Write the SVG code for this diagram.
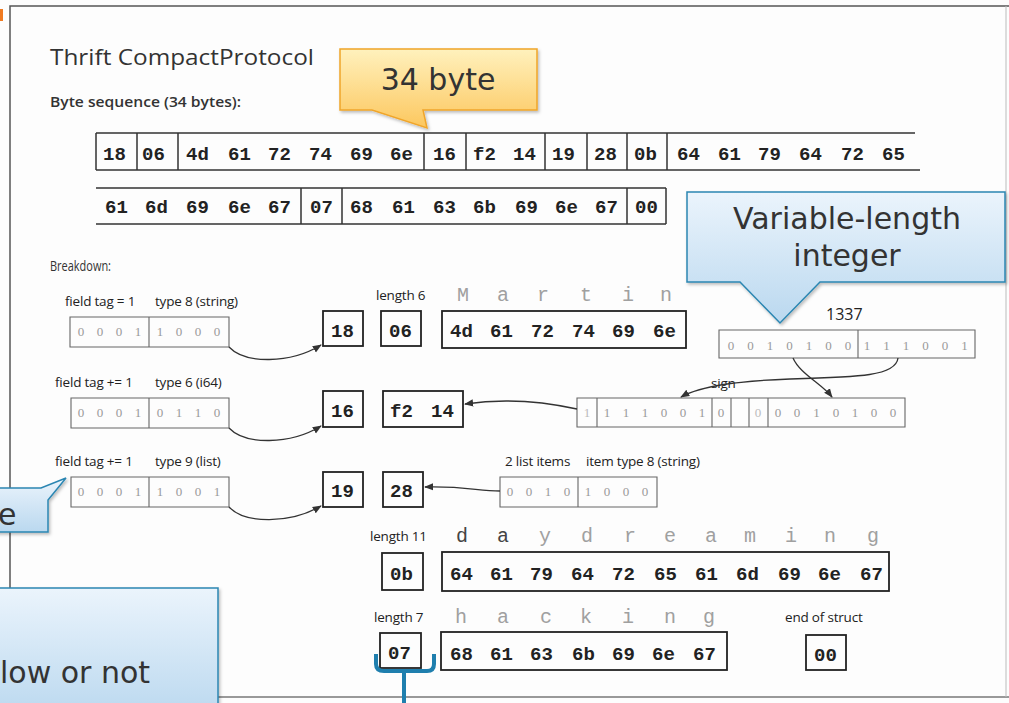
<svg xmlns="http://www.w3.org/2000/svg" width="1009" height="703" viewBox="0 0 1009 703">
<defs>
<linearGradient id="gOr" x1="0" y1="0" x2="0" y2="1"><stop offset="0" stop-color="#fff1bd"/><stop offset="1" stop-color="#fcc75e"/></linearGradient>
<linearGradient id="gBl" x1="0" y1="0" x2="0" y2="1"><stop offset="0" stop-color="#ebf4fc"/><stop offset="1" stop-color="#bad8ef"/></linearGradient>
<marker id="ah" viewBox="0 0 10 10" refX="9" refY="5" markerWidth="7" markerHeight="7" orient="auto-start-reverse"><path d="M0,1 L10,5 L0,9 Z" fill="#333"/></marker>
<filter id="sh" x="-10%" y="-10%" width="130%" height="140%"><feDropShadow dx="1.5" dy="2" stdDeviation="1.5" flood-color="#000" flood-opacity="0.25"/></filter>
</defs>
<style>
.b{font-family:"Liberation Mono","Courier New",monospace;font-weight:bold;font-size:19px;fill:#222}
.l{font-family:"Liberation Mono","Courier New",monospace;font-size:20px;fill:#a0a0a0}
.dk{fill:#444}
.s{font-family:"Open Sans","Noto Sans",sans-serif;font-size:13.5px;fill:#222;letter-spacing:-0.2px}
.bit{font-family:"Liberation Serif",serif;font-size:13px;fill:#999;text-anchor:middle}
.box{fill:none;stroke:#222;stroke-width:1.8}
.rb{fill:none;stroke:#333;stroke-width:1.5}
.bb{fill:none;stroke:#666;stroke-width:1.1}
.c{fill:none;stroke:#333;stroke-width:1.3}
.co{font-family:"DejaVu Sans",Verdana,sans-serif;font-size:30px;fill:#333}
</style>
<rect width="1009" height="703" fill="#fdfdfd"/>
<g id="frame" fill="none" stroke="#555" stroke-width="1.5">
<path d="M10,703 V6 H1009"/>
<path d="M10,697 H1009" stroke="#777"/>
<path d="M1006,6 V697" stroke="#bbb" stroke-width="1"/>
</g>
<rect x="0" y="9" width="3" height="12" fill="#f07a20"/>
<g id="title">
<text x="50" y="65" font-family="Open Sans,Noto Sans,sans-serif" font-size="21" fill="#333" textLength="264" lengthAdjust="spacingAndGlyphs">Thrift CompactProtocol</text>
<text x="50" y="107" font-family="Open Sans,Noto Sans,sans-serif" font-size="14" font-weight="600" fill="#333" textLength="191" lengthAdjust="spacingAndGlyphs">Byte sequence (34 bytes):</text>
<text x="50" y="271" font-family="Open Sans,Noto Sans,sans-serif" font-size="14" fill="#333" textLength="61" lengthAdjust="spacingAndGlyphs">Breakdown:</text>
</g>
<g id="seq1">
<path class="rb" d="M96,133 H915 M96,170 H920 M96,133 V170 M137,133 V170 M178,133 V170 M424,133 V170 M466,133 V170 M545,133 V170 M587,133 V170 M627,133 V170 M667,133 V170"/>
<text class="b" y="160"><tspan x="103">18</tspan><tspan x="142">06</tspan><tspan x="186">4d</tspan><tspan x="228">61</tspan><tspan x="268">72</tspan><tspan x="309">74</tspan><tspan x="350">69</tspan><tspan x="390">6e</tspan><tspan x="433">16</tspan><tspan x="473">f2</tspan><tspan x="513">14</tspan><tspan x="552">19</tspan><tspan x="594">28</tspan><tspan x="634">0b</tspan><tspan x="677">64</tspan><tspan x="718">61</tspan><tspan x="758">79</tspan><tspan x="799">64</tspan><tspan x="841">72</tspan><tspan x="882">65</tspan></text>
</g>
<g id="seq2">
<path class="rb" d="M96,188 H666 M96,224 H666 M301,188 V224 M342,188 V224 M627,188 V224 M666,188 V224"/>
<text class="b" y="213"><tspan x="105">61</tspan><tspan x="145">6d</tspan><tspan x="186">69</tspan><tspan x="228">6e</tspan><tspan x="268">67</tspan><tspan x="310">07</tspan><tspan x="350">68</tspan><tspan x="392">61</tspan><tspan x="433">63</tspan><tspan x="473">6b</tspan><tspan x="515">69</tspan><tspan x="555">6e</tspan><tspan x="595">67</tspan><tspan x="635">00</tspan></text>
</g>
<g id="row1">
<text class="s" x="65" y="306">field tag = 1</text>
<text class="s" x="155" y="306">type 8 (string)</text>
<path class="bb" d="M70,317 H229 V347 H70 Z M149,317 V347"/>
<text class="bit" y="336"><tspan x="81">0</tspan><tspan x="100">0</tspan><tspan x="119">0</tspan><tspan x="138">1</tspan><tspan x="160">1</tspan><tspan x="179">0</tspan><tspan x="198">0</tspan><tspan x="217">0</tspan></text>
<rect class="box" x="323" y="311" width="40" height="35"/>
<text class="b" x="331" y="337">18</text>
<text class="s" x="376" y="300">length 6</text>
<rect class="box" x="381" y="311" width="40" height="35"/>
<text class="b" x="389" y="337">06</text>
<text class="l" y="301"><tspan x="457">M</tspan><tspan x="497">a</tspan><tspan x="537">r</tspan><tspan x="580">t</tspan><tspan x="622">i</tspan><tspan x="660">n</tspan></text>
<rect class="box" x="442" y="311" width="244" height="37"/>
<text class="b" y="337"><tspan x="450">4d</tspan><tspan x="490">61</tspan><tspan x="531">72</tspan><tspan x="572">74</tspan><tspan x="612">69</tspan><tspan x="653">6e</tspan></text>
</g>
<g id="varint">
<text x="826" y="320" font-family="Open Sans,Noto Sans,sans-serif" font-size="16" fill="#222">1337</text>
<path class="bb" d="M719,330 H975 V358 H719 Z M858,330 V358"/>
<text class="bit" y="350"><tspan x="731">0</tspan><tspan x="750.5">0</tspan><tspan x="770">1</tspan><tspan x="789.5">0</tspan><tspan x="809">1</tspan><tspan x="828.5">0</tspan><tspan x="848">0</tspan><tspan x="867">1</tspan><tspan x="886.5">1</tspan><tspan x="906">1</tspan><tspan x="925.5">0</tspan><tspan x="945">0</tspan><tspan x="964.5">1</tspan></text>
</g>
<g id="row2">
<text class="s" x="55" y="387">field tag += 1</text>
<text class="s" x="155" y="387">type 6 (i64)</text>
<path class="bb" d="M71,398 H229 V428 H71 Z M149,398 V428"/>
<text class="bit" y="417"><tspan x="81">0</tspan><tspan x="100">0</tspan><tspan x="119">0</tspan><tspan x="138">1</tspan><tspan x="160">0</tspan><tspan x="179">1</tspan><tspan x="198">1</tspan><tspan x="217">0</tspan></text>
<rect class="box" x="323" y="391" width="40" height="36"/>
<text class="b" x="331" y="417">16</text>
<rect class="box" x="383" y="391" width="80" height="36"/>
<text class="b" y="417"><tspan x="390">f2</tspan><tspan x="431">14</tspan></text>
<text class="s" x="711" y="388">sign</text>
<path class="bb" d="M577,398 H905 V427 H577 Z M597,398 V427 M712,398 V427 M731,398 V427 M749,398 V427 M768,398 V427"/>
<text class="bit" y="417"><tspan x="587" fill="#bbb">1</tspan><tspan x="607">1</tspan><tspan x="626">1</tspan><tspan x="645">1</tspan><tspan x="664">0</tspan><tspan x="683">0</tspan><tspan x="702">1</tspan><tspan x="721">0</tspan><tspan x="758" fill="#bbb">0</tspan><tspan x="778">0</tspan><tspan x="797">0</tspan><tspan x="816.5">1</tspan><tspan x="836">0</tspan><tspan x="855">1</tspan><tspan x="874">0</tspan><tspan x="893">0</tspan></text>
</g>
<g id="row3">
<text class="s" x="55" y="466">field tag += 1</text>
<text class="s" x="155" y="466">type 9 (list)</text>
<path class="bb" d="M71,477 H229 V507 H71 Z M149,477 V507"/>
<text class="bit" y="496"><tspan x="81">0</tspan><tspan x="100">0</tspan><tspan x="119">0</tspan><tspan x="138">1</tspan><tspan x="160">1</tspan><tspan x="179">0</tspan><tspan x="198">0</tspan><tspan x="217">1</tspan></text>
<rect class="box" x="323" y="472" width="40" height="35"/>
<text class="b" x="331" y="497">19</text>
<rect class="box" x="383" y="472" width="40" height="35"/>
<text class="b" x="390" y="497">28</text>
<text class="s" x="505" y="466">2 list items</text>
<text class="s" x="586" y="466">item type 8 (string)</text>
<path class="bb" d="M500,477 H657 V507 H500 Z M578,477 V507"/>
<text class="bit" y="496"><tspan x="510">0</tspan><tspan x="529">0</tspan><tspan x="548">1</tspan><tspan x="567">0</tspan><tspan x="588">1</tspan><tspan x="607">0</tspan><tspan x="626">0</tspan><tspan x="645">0</tspan></text>
</g>
<g id="row4">
<text class="s" x="370" y="541">length 11</text>
<text class="l" y="542"><tspan x="456" class="dk">d</tspan><tspan x="497" class="dk">a</tspan><tspan x="539">y</tspan><tspan x="581">d</tspan><tspan x="624">r</tspan><tspan x="664">e</tspan><tspan x="705">a</tspan><tspan x="744">m</tspan><tspan x="785">i</tspan><tspan x="824">n</tspan><tspan x="867">g</tspan></text>
<rect class="box" x="382" y="553" width="41" height="37"/>
<text class="b" x="390" y="580">0b</text>
<rect class="box" x="442" y="552" width="447" height="39"/>
<text class="b" y="580"><tspan x="450">64</tspan><tspan x="490">61</tspan><tspan x="530">79</tspan><tspan x="571">64</tspan><tspan x="612">72</tspan><tspan x="654">65</tspan><tspan x="695">61</tspan><tspan x="736">6d</tspan><tspan x="778">69</tspan><tspan x="818">6e</tspan><tspan x="860">67</tspan></text>
</g>
<g id="row5">
<text class="s" x="374" y="622">length 7</text>
<text class="l" y="623" fill="#999"><tspan x="455">h</tspan><tspan x="497">a</tspan><tspan x="540">c</tspan><tspan x="580">k</tspan><tspan x="622">i</tspan><tspan x="664">n</tspan><tspan x="703">g</tspan></text>
<rect class="box" x="380" y="633" width="41" height="35"/>
<text class="b" x="388" y="659">07</text>
<rect class="box" x="441" y="632" width="286" height="38"/>
<text class="b" y="660"><tspan x="450">68</tspan><tspan x="490">61</tspan><tspan x="530">63</tspan><tspan x="572">6b</tspan><tspan x="612">69</tspan><tspan x="652">6e</tspan><tspan x="693">67</tspan></text>
<text class="s" x="785" y="622">end of struct</text>
<rect class="box" x="806" y="635" width="40" height="35"/>
<text class="b" x="814" y="661">00</text>
</g>
<g id="connectors">
<path class="c" d="M229,347 C245,364 290,364 321,345" marker-end="url(#ah)"/>
<path class="c" d="M229,428 C245,445 290,445 321,426" marker-end="url(#ah)"/>
<path class="c" d="M229,507 C245,524 290,524 321,506" marker-end="url(#ah)"/>
<path class="c" d="M500,491 C478,491 465,486 425,487" marker-end="url(#ah)"/>
<path class="c" d="M577,409 C545,402 505,398 465,404" marker-end="url(#ah)"/>
<path class="c" d="M793,358 C800,374 822,384 832,397" marker-end="url(#ah)"/>
<path class="c" d="M898,358 C896,376 860,377 790,379 C735,381 700,386 681,397" marker-end="url(#ah)"/>
</g>
<g id="callout-34">
<path d="M340,49 H537 V110 H423 L427,128 L372,110 H340 Z" fill="url(#gOr)" stroke="#f0a52a" stroke-width="1.5" filter="url(#sh)"/>
<text class="co" x="438" y="90" text-anchor="middle">34 byte</text>
</g>
<g id="callout-varint">
<path d="M687,192 H1005 V282 H820 L780,323 L740,282 H687 Z" fill="url(#gBl)" stroke="#2b86b2" stroke-width="1.5" filter="url(#sh)"/>
<text class="co" x="847" y="229" text-anchor="middle">Variable-length</text>
<text class="co" x="847" y="266" text-anchor="middle">integer</text>
</g>
<g id="callout-left">
<path d="M-10,488 H41 L66,478 L48,500 V532 H-10 Z" fill="url(#gBl)" stroke="#2b86b2" stroke-width="1.5" filter="url(#sh)"/>
<text class="co" x="-2" y="525">e</text>
</g>
<g id="callout-bottom">
<rect x="-10" y="588" width="228" height="130" fill="url(#gBl)" stroke="#2b86b2" stroke-width="1.5" filter="url(#sh)"/>
<text class="co" x="0" y="683" font-size="29">low or not</text>
</g>
<g id="brace">
<path d="M376,654 V664 Q376,671 384,671 H427 Q434,671 434,664 V654 M404,671 V703" fill="none" stroke="#1f7fae" stroke-width="4"/>
</g>
</svg>
